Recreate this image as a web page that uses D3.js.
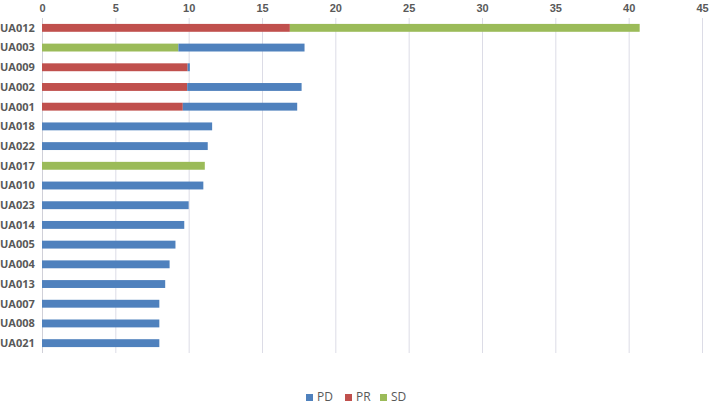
<!DOCTYPE html>
<html><head><meta charset="utf-8">
<script src="https://cdn.jsdelivr.net/npm/d3@7/dist/d3.min.js"></script>
<style>body{margin:0;background:#fff;}svg{display:block;font-family:"Open Sans","Liberation Sans",Arial,sans-serif;}</style>
</head><body><svg id="c" width="709" height="405"></svg>
<script>
const categories = ["UA012","UA003","UA009","UA002","UA001","UA018","UA022","UA017","UA010","UA023","UA014","UA005","UA004","UA013","UA007","UA008","UA021"];
// stacking order per bar: first segment then second
const firstSeries = ["PR","SD","PR","PR","PR","PD","PD","SD","PD","PD","PD","PD","PD","PD","PD","PD","PD"];
const firstValues = [16.9,9.3,9.93,9.9,9.6,11.6,11.3,11.1,11.0,10.0,9.7,9.1,8.7,8.4,8.0,8.0,8.0];
const secondSeries = ["SD","PD","PD","PD","PD",null,null,null,null,null,null,null,null,null,null,null,null];
const secondValues = [23.85,8.6,0.15,7.8,7.8,0,0,0,0,0,0,0,0,0,0,0,0];
const xTicks = [0,5,10,15,20,25,30,35,40,45];
const legendNames = ["PD","PR","SD"];
const colors = {PD:"#4F81BD", PR:"#C0504D", SD:"#9BBB59"};

const svg = d3.select("#c");
const m = {l:42, r:7, t:18, b:52};
const W = 709, H = 405;
const x = d3.scaleLinear().domain([0,45]).range([m.l, W-m.r]);
const y = d3.scaleBand().domain(categories).range([m.t, H-m.b]).paddingInner(0.6).paddingOuter(0.3);

// gridlines
svg.append("g").selectAll("line").data(xTicks).join("line")
  .attr("x1",d=>x(d)+0.5).attr("x2",d=>x(d)+0.5)
  .attr("y1",m.t).attr("y2",H-m.b)
  .attr("stroke",d=>d===0?"#d0d0d8":"#dcdce6").attr("stroke-width",1);

// top axis labels
const ax = svg.append("g").attr("transform",`translate(0,${m.t})`)
  .call(d3.axisTop(x).tickValues(xTicks).tickSize(0).tickPadding(6).tickFormat(d3.format("d")));
ax.select(".domain").remove();
ax.selectAll("text").attr("fill","#595959").attr("font-size","11px").attr("font-weight","bold");

// bars
const segs = [];
categories.forEach((c,i)=>{
  segs.push({c, s:firstSeries[i], x0:0, x1:firstValues[i]});
  if(secondSeries[i]) segs.push({c, s:secondSeries[i], x0:firstValues[i], x1:firstValues[i]+secondValues[i]});
});
svg.append("g").selectAll("rect").data(segs).join("rect")
  .attr("x",d=>x(d.x0)).attr("width",d=>x(d.x1)-x(d.x0))
  .attr("y",d=>y(d.c)).attr("height",y.bandwidth())
  .attr("fill",d=>colors[d.s]);

// category labels
const ay = svg.append("g");
ay.selectAll("text").data(categories).join("text")
  .attr("x",0).attr("y",d=>y(d)+y.bandwidth()/2).attr("dy","0.35em")
  .attr("font-size","11px").attr("font-weight","bold").attr("fill","#595959").text(d=>d);

// legend
const lg = svg.append("g").attr("transform","translate(0,397)");
const lx = [306,345,380];
legendNames.forEach((n,i)=>{
  lg.append("rect").attr("x",lx[i]).attr("y",-3).attr("width",7).attr("height",7).attr("fill",colors[n]);
  lg.append("text").attr("x",lx[i]+11).attr("y",0).attr("dy","0.35em").attr("font-size","12px").attr("fill","#595959").text(n);
});
</script></body></html>
